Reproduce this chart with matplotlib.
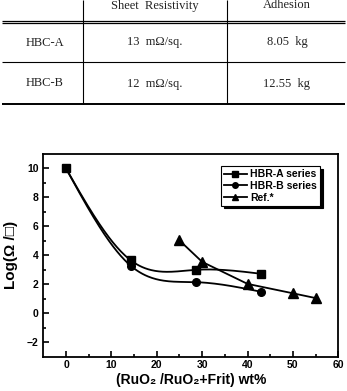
import matplotlib.pyplot as plt
import numpy as np

# table contents
table_header = ["", "Sheet  Resistivity", "Adhesion"]
table_rows = [["HBC-A", "13  m\u03a9/sq.", "8.05  kg"],
              ["HBC-B", "12  m\u03a9/sq.", "12.55  kg"]]

# chart data
a_x = [0, 14.3, 28.6, 42.9]
a_y = [10, 3.65, 3.0, 2.73]
b_x = [0, 14.3, 28.6, 42.9]
b_y = [10, 3.27, 2.15, 1.49]
ref_x = [25, 30, 40, 50, 55]
ref_y = [5.03, 3.55, 2.03, 1.38, 1.05]
x_ticks = [0, 10, 20, 30, 40, 50, 60]
y_ticks = [-2, 0, 2, 4, 6, 8, 10]


def natural_spline(x, y, n=200):
    # natural cubic spline through the points (for the smooth connecting line)
    x = np.asarray(x, float)
    y = np.asarray(y, float)
    k = len(x)
    h = np.diff(x)
    A = np.zeros((k, k))
    r = np.zeros(k)
    A[0, 0] = A[-1, -1] = 1
    for i in range(1, k - 1):
        A[i, i - 1] = h[i - 1]
        A[i, i] = 2 * (h[i - 1] + h[i])
        A[i, i + 1] = h[i]
        r[i] = 6 * ((y[i + 1] - y[i]) / h[i] - (y[i] - y[i - 1]) / h[i - 1])
    M = np.linalg.solve(A, r)
    xs = np.linspace(x[0], x[-1], n)
    idx = np.clip(np.searchsorted(x, xs) - 1, 0, k - 2)
    x0, x1 = x[idx], x[idx + 1]
    hh = x1 - x0
    t0, t1 = x1 - xs, xs - x0
    ys = (M[idx] * t0 ** 3 / (6 * hh) + M[idx + 1] * t1 ** 3 / (6 * hh)
          + (y[idx] / hh - M[idx] * hh / 6) * t0
          + (y[idx + 1] / hh - M[idx + 1] * hh / 6) * t1)
    return xs, ys


fig = plt.figure(figsize=(3.47, 3.91), dpi=100)

# --- table drawn in pixel coordinates ---
tab = fig.add_axes([0, 0, 1, 1])
tab.set_xlim(0, 347)
tab.set_ylim(391, 0)
tab.axis("off")
serif = ["Liberation Serif", "DejaVu Serif"]
tab.hlines([20.5, 23.0], 2.5, 345, color="black", lw=0.9)
tab.hlines(62.3, 2.5, 345, color="black", lw=0.8)
tab.hlines(104.3, 2.5, 345, color="black", lw=1.4)
tab.vlines([83.3, 226.7], 0, 104.3, color="black", lw=0.8)
col_x = [45, 155, 287]
row_y = [5.5, 42.5, 83.5]
for j, txt in enumerate(table_header):
    tab.text(col_x[j], row_y[0], txt, ha="center", va="center",
             fontsize=9, family=serif, color="#222222")
for i, row in enumerate(table_rows):
    for j, txt in enumerate(row):
        tab.text(col_x[j], row_y[i + 1], txt, ha="center", va="center",
                 fontsize=9, family=serif, color="#222222")

# --- chart ---
sans = ["Liberation Sans", "DejaVu Sans"]
ax = fig.add_axes([0.1249, 0.0877, 0.850, 0.5184])

xs, ys = natural_spline(a_x, a_y)
ax.plot(xs, ys, color="black", lw=1.3)
ax.plot(a_x, a_y, ls="none", marker="s", ms=6, color="black")
xs, ys = natural_spline(b_x, b_y)
ax.plot(xs, ys, color="black", lw=1.3)
ax.plot(b_x, b_y, ls="none", marker="o", ms=5.5, color="black")
ax.plot(ref_x, ref_y, color="black", lw=1.3, marker="^", ms=6.5)

# legend handles
ax.plot([], [], color="black", lw=1.3, marker="s", ms=4, label="HBR-A series")
ax.plot([], [], color="black", lw=1.3, marker="o", ms=4, label="HBR-B series")
ax.plot([], [], color="black", lw=1.3, marker="^", ms=4.5, label="Ref.*")
handles, labels = ax.get_legend_handles_labels()
leg = ax.legend(handles[-3:], labels[-3:], loc="upper right",
                bbox_to_anchor=(0.955, 0.965), fancybox=False,
                shadow={"color": "black", "alpha": 1},
                edgecolor="black", framealpha=1, handlelength=2.2,
                handletextpad=0.3, borderpad=0.3, labelspacing=0.15,
                prop={"family": sans, "weight": "bold", "size": 7.5})
leg.get_frame().set_linewidth(0.8)

ax.set_xlim(-5, 60)
ax.set_ylim(-3, 11)
ax.set_xticks(x_ticks)
ax.set_yticks(y_ticks)
ax.set_xticks(np.arange(5, 60, 10), minor=True)
ax.set_yticks(np.arange(-1, 11, 2), minor=True)
ax.tick_params(which="both", direction="in", width=1.2)
ax.tick_params(which="major", length=4)
ax.tick_params(which="minor", length=2.5)
ax.tick_params(axis="x", pad=2.5)
for lbl in ax.get_xticklabels() + ax.get_yticklabels():
    lbl.set_family(sans)
    lbl.set_fontweight("bold")
    lbl.set_fontsize(7.5)
for s in ax.spines.values():
    s.set_linewidth(1.3)

ax.set_xlabel("(RuO\u2082 /RuO\u2082+Frit) wt%", family=sans,
              fontweight="bold", fontsize=10, labelpad=2)
ax.set_ylabel("Log(\u03a9 /\u25a1)", family=sans, fontweight="bold",
              fontsize=11, labelpad=6)

fig.savefig("out.png", dpi=100)
